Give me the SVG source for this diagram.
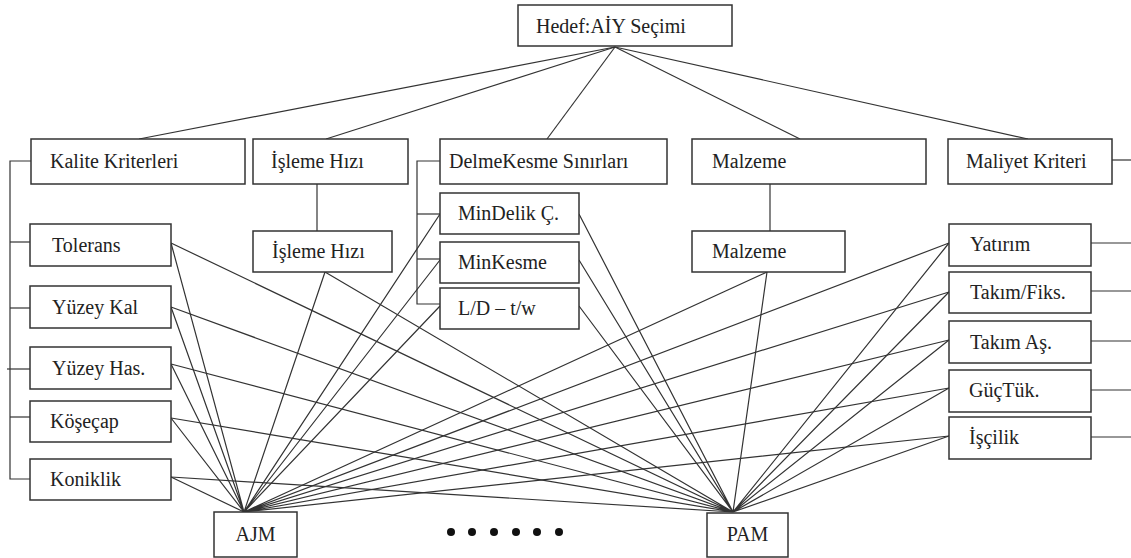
<svg xmlns="http://www.w3.org/2000/svg" width="1131" height="558" viewBox="0 0 1131 558">
<style>
rect.b{fill:#fff;stroke:#333;stroke-width:1.5}
text{font-family:'Liberation Serif','Times New Roman','DejaVu Serif',serif;font-size:20px;fill:#222}
.c line,.c path{stroke:#333;stroke-width:1.2;fill:none}
</style>
<rect width="1131" height="558" fill="#fff"/>
<g class="c" id="connectors">
<line x1="615" y1="47" x2="139" y2="139"/>
<line x1="615" y1="47" x2="326" y2="139"/>
<line x1="615" y1="47" x2="547" y2="139"/>
<line x1="615" y1="47" x2="800" y2="139"/>
<line x1="615" y1="47" x2="1028" y2="139"/>
<path d="M31 161 H10 V479 H31"/>
<line x1="10" y1="242" x2="31" y2="242"/>
<line x1="10" y1="308" x2="31" y2="308"/>
<line x1="7" y1="369" x2="31" y2="369"/>
<line x1="10" y1="417" x2="31" y2="417"/>
<path d="M440 161 H417 V304 H440"/>
<line x1="417" y1="214" x2="440" y2="214"/>
<line x1="417" y1="259" x2="440" y2="259"/>
<line x1="317" y1="184" x2="317" y2="231"/>
<line x1="770" y1="184" x2="770" y2="231"/>
<line x1="1112" y1="160" x2="1131" y2="160"/>
<line x1="1091" y1="243" x2="1131" y2="243"/>
<line x1="1091" y1="291" x2="1131" y2="291"/>
<line x1="1091" y1="341" x2="1131" y2="341"/>
<line x1="1091" y1="390" x2="1131" y2="390"/>
<line x1="1091" y1="437" x2="1131" y2="437"/>
<path d="M171 243 L244 512 M171 307 L244 512 M171 364 L244 512 M171 418 L244 512 M171 477 L244 512 M325 272 L244 512 M440 214 L244 512 M440 260 L244 512 M440 306 L244 512 M767 272 L244 512 M949 243 L244 512 M949 292 L244 512 M949 340 L244 512 M949 388 L244 512 M949 436 L244 512"/>
<path d="M171 243 L733 512 M171 307 L733 512 M171 364 L733 512 M171 418 L733 512 M171 477 L733 512 M325 272 L733 512 M579 214 L733 512 M579 260 L733 512 M579 306 L733 512 M767 272 L733 512 M949 243 L733 512 M949 292 L733 512 M949 340 L733 512 M949 388 L733 512 M949 436 L733 512"/>
</g>
<g id="hedef"><rect class="b" x="518" y="5" width="214" height="41"/><text x="536" y="33">Hedef:AİY Seçimi</text></g>
<g id="kalite"><rect class="b" x="31" y="139" width="214" height="45"/><text x="50" y="168">Kalite Kriterleri</text></g>
<g id="isleme"><rect class="b" x="253" y="139" width="155" height="45"/><text x="271" y="168">İşleme Hızı</text></g>
<g id="delme"><rect class="b" x="440" y="139" width="227" height="45"/><text x="449" y="168">DelmeKesme Sınırları</text></g>
<g id="malzeme"><rect class="b" x="692" y="139" width="234" height="45"/><text x="712" y="168">Malzeme</text></g>
<g id="maliyet"><rect class="b" x="948" y="139" width="164" height="45"/><text x="966" y="168">Maliyet Kriteri</text></g>
<g id="tolerans"><rect class="b" x="30" y="224" width="141" height="42"/><text x="52" y="252">Tolerans</text></g>
<g id="yuzeykal"><rect class="b" x="30" y="286" width="141" height="42"/><text x="52" y="314">Yüzey Kal</text></g>
<g id="yuzeyhas"><rect class="b" x="30" y="347" width="141" height="42"/><text x="52" y="375">Yüzey Has.</text></g>
<g id="kosecap"><rect class="b" x="30" y="401" width="141" height="41"/><text x="50" y="428">Köşeçap</text></g>
<g id="koniklik"><rect class="b" x="30" y="459" width="141" height="41"/><text x="50" y="486">Koniklik</text></g>
<g id="isleme2"><rect class="b" x="253" y="231" width="139" height="41"/><text x="272" y="258">İşleme Hızı</text></g>
<g id="mindelik"><rect class="b" x="440" y="193" width="139" height="41"/><text x="458" y="220">MinDelik Ç.</text></g>
<g id="minkesme"><rect class="b" x="440" y="242" width="139" height="41"/><text x="458" y="269">MinKesme</text></g>
<g id="ld"><rect class="b" x="440" y="288" width="139" height="41"/><text x="458" y="315">L/D – t/w</text></g>
<g id="malzeme2"><rect class="b" x="692" y="231" width="153" height="41"/><text x="712" y="258">Malzeme</text></g>
<g id="yatirim"><rect class="b" x="949" y="224" width="142" height="42"/><text x="970" y="251">Yatırım</text></g>
<g id="takimfiks"><rect class="b" x="949" y="272" width="142" height="41"/><text x="970" y="299">Takım/Fiks.</text></g>
<g id="takimas"><rect class="b" x="949" y="321" width="142" height="42"/><text x="970" y="349">Takım Aş.</text></g>
<g id="guctuk"><rect class="b" x="949" y="370" width="142" height="42"/><text x="969" y="397">GüçTük.</text></g>
<g id="iscilik"><rect class="b" x="949" y="417" width="142" height="42"/><text x="969" y="444">İşçilik</text></g>
<g id="ajm"><rect class="b" x="214" y="512" width="83" height="45"/><text x="255.5" y="541" text-anchor="middle">AJM</text></g>
<g id="pam"><rect class="b" x="707" y="513" width="81" height="44"/><text x="747.5" y="541" text-anchor="middle">PAM</text></g>
<g id="dots" fill="#111"><circle cx="451" cy="532" r="4"/><circle cx="472" cy="532" r="4"/><circle cx="494" cy="532" r="4"/><circle cx="516" cy="532" r="4"/><circle cx="537" cy="532" r="4"/><circle cx="559" cy="532" r="4"/></g>
</svg>
